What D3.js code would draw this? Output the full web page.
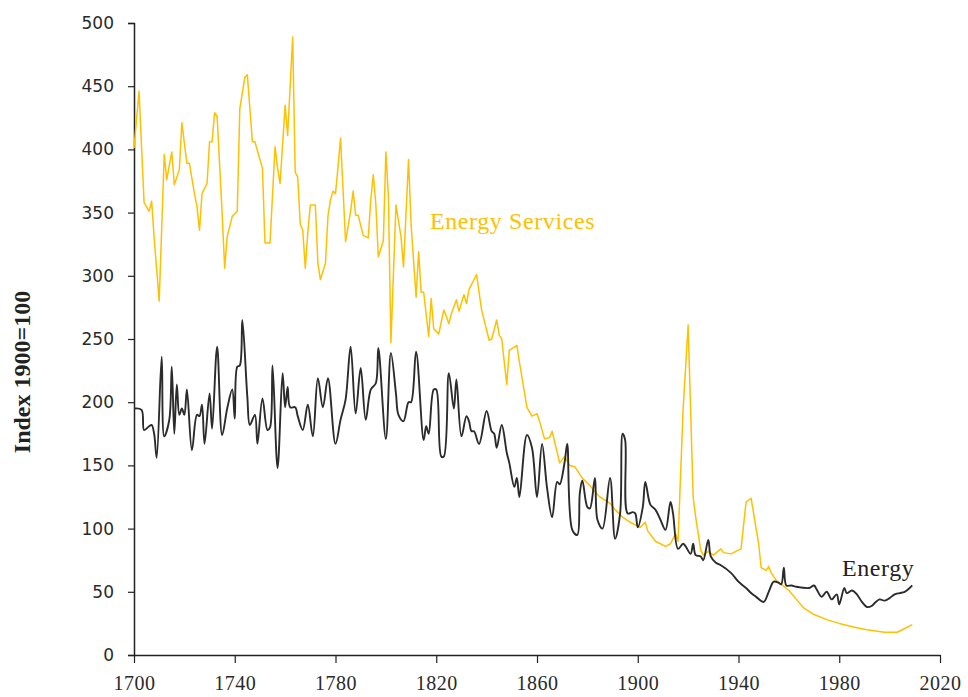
<!DOCTYPE html>
<html>
<head>
<meta charset="utf-8">
<script src="https://cdn.jsdelivr.net/npm/d3@7"></script>
<style>
  body { margin: 0; background: #fff; }
  svg { display: block; }
</style>
</head>
<body>
<div id="chart"></div>
<script>
// year ticks and value ticks
const xTicks = [1700, 1740, 1780, 1820, 1860, 1900, 1940, 1980, 2020];
const yTicks = [0, 50, 100, 150, 200, 250, 300, 350, 400, 450, 500];

// Energy Services index (1900=100)
const energyServices = [
  [1700,401],[1702,446],[1704,358],[1706,351],[1707,359],[1708,330],[1710,280],[1712,396],
  [1713,376],[1715,398],[1716,372],[1718,384],[1719,421],[1721,389],[1722,389],[1724,365],
  [1725,355],[1726,336],[1727,365],[1729,373],[1730,406],[1731,406],[1732,429],[1733,426],
  [1735,349],[1736,306],[1737,331],[1739,347],[1741,351],[1742,432],[1744,457],[1745,459],
  [1747,406],[1748,406],[1751,385],[1752,326],[1754,326],[1756,402],[1757,385],[1758,373],
  [1760,435],[1761,411],[1763,489],[1764,382],[1765,378],[1766,341],[1767,336],[1768,306],
  [1769,334],[1770,356],[1772,356],[1773,310],[1774,297],[1776,310],[1777,347],[1778,360],
  [1779,367],[1780,365],[1781,386],[1782,409],[1784,327],[1786,351],[1787,367],[1788,348],
  [1789,348],[1791,332],[1793,330],[1794,360],[1795,380],[1796,357],[1797,315],[1799,328],
  [1800,398],[1801,363],[1802,247],[1804,356],[1806,331],[1807,307],[1809,392],[1810,341],
  [1812,283],[1813,319],[1814,287],[1815,287],[1817,252],[1818,282],[1819,258],[1821,254],
  [1823,273],[1824,268],[1825,262],[1826,270],[1828,281],[1829,272],[1831,285],[1832,278],
  [1833,289],[1836,301],[1838,273],[1841,249],[1842,250],[1844,265],[1845,253],[1846,250],
  [1848,214],[1849,241],[1852,245],[1853,232],[1856,196],[1858,189],[1860,191],[1861,185],
  [1863,171],[1865,172],[1866,177],[1869,152],[1871,157],[1873,150],[1875,149],[1878,140],
  [1881,134],[1884,127],[1885,125],[1889,120],[1891,115],[1894,109],[1897,105],[1901,101],
  [1903,105],[1904,98],[1907,90],[1909,88],[1911,86],[1913,88],[1915,96],[1916,90],
  [1918,194],[1920,261],[1922,125],[1923,109],[1925,83],[1926,79],[1928,82],[1930,79],
  [1933,84],[1934,81],[1937,80],[1940,83],[1941,84],[1943,121],[1945,124],[1946,112],
  [1948,88],[1949,69],[1951,67],[1952,70],[1953,65],[1955,59],[1960,51],[1963,44],
  [1966,37],[1970,32],[1975,28],[1980,25],[1986,22],[1991,20],[1998,18],[2003,18],
  [2006,21],[2009,24]
];

// Energy index (1900=100)
const energy = [
  [1700,195],[1703,194],[1704,178],[1706,181],[1707,182],[1708,175],[1709,156],[1711,236],
  [1712,173],[1714,186],[1715,228],[1716,175],[1717,214],[1718,190],[1719,195],[1720,190],
  [1721,210],[1723,162],[1725,190],[1726,189],[1727,198],[1728,167],[1730,207],[1731,179],
  [1733,244],[1735,174],[1737,195],[1739,210],[1740,187],[1741,228],[1742,229],[1743,265],
  [1745,204],[1746,182],[1748,190],[1749,167],[1751,203],[1753,178],[1754,180],[1755,229],
  [1757,148],[1759,223],[1760,196],[1761,212],[1762,196],[1764,196],[1765,189],[1767,178],
  [1769,198],[1771,173],[1773,219],[1775,196],[1777,219],[1780,167],[1782,186],[1784,202],
  [1786,244],[1788,191],[1790,227],[1792,186],[1794,210],[1796,215],[1797,243],[1800,171],
  [1802,239],[1804,207],[1805,190],[1807,185],[1809,200],[1810,200],[1812,240],[1815,170],
  [1816,181],[1817,175],[1819,210],[1820,210],[1822,157],[1823,157],[1825,223],[1827,195],
  [1828,218],[1830,173],[1832,189],[1833,185],[1834,177],[1835,177],[1837,167],[1840,193],
  [1842,177],[1843,175],[1844,164],[1846,182],[1848,160],[1849,152],[1851,133],[1852,140],
  [1853,125],[1856,174],[1858,164],[1860,125],[1862,167],[1864,132],[1866,109],[1868,137],
  [1869,135],[1871,153],[1872,167],[1874,99],[1876,95],[1877,128],[1878,138],[1880,117],
  [1881,116],[1883,140],[1884,107],[1886,100],[1889,140],[1891,92],[1893,112],[1894,175],
  [1895,170],[1896,112],[1898,113],[1899,112],[1900,101],[1902,117],[1903,137],[1905,119],
  [1907,115],[1909,107],[1911,99],[1913,121],[1914,112],[1916,84],[1918,88],[1919,86],
  [1921,80],[1922,88],[1923,79],[1925,78],[1926,75],[1928,91],[1929,78],[1931,73],
  [1933,71],[1937,65],[1940,58],[1943,53],[1945,49],[1947,46],[1950,42],[1952,50],
  [1954,58],[1956,57],[1957,56],[1958,69],[1959,55],[1961,55],[1963,54],[1968,53],
  [1970,55],[1971,52],[1973,46],[1975,50],[1977,44],[1979,48],[1980,40],[1982,53],
  [1983,49],[1985,51],[1987,48],[1989,42],[1991,38],[1993,39],[1994,41],[1996,44],
  [1998,43],[2000,45],[2002,48],[2004,49],[2006,50],[2009,55]
];

const width = 968, height = 697;
const svg = d3.select('#chart').append('svg')
  .attr('width', width)
  .attr('height', height);

const x = d3.scaleLinear().domain([1700, 2020]).range([134, 940]);
const y = d3.scaleLinear().domain([0, 500]).range([655, 23]);

// y axis
const yAxis = svg.append('g')
  .attr('transform', 'translate(134,0)')
  .call(d3.axisLeft(y).tickValues(yTicks).tickSize(6).tickPadding(14).tickFormat(d3.format('d')));
yAxis.select('.domain').attr('stroke', '#222').attr('stroke-width', 1.5);
yAxis.selectAll('.tick line').attr('stroke', '#222').attr('stroke-width', 1.2);
yAxis.selectAll('.tick text')
  .attr('font-family', 'DejaVu Sans, Verdana, sans-serif')
  .attr('font-size', 17)
  .attr('fill', '#2a2a2a');

// x axis
const xAxis = svg.append('g')
  .attr('transform', 'translate(0,655)')
  .call(d3.axisBottom(x).tickValues(xTicks).tickSize(8).tickPadding(13).tickSizeOuter(0).tickFormat(d3.format('d')));
xAxis.select('.domain').attr('stroke', '#222').attr('stroke-width', 1.5);
xAxis.selectAll('.tick line').attr('stroke', '#222').attr('stroke-width', 1.2);
xAxis.selectAll('.tick text')
  .attr('font-family', 'Liberation Serif, Times New Roman, serif')
  .attr('font-size', 20)
  .attr('letter-spacing', 0.5)
  .attr('fill', '#2a2a2a');

// y axis title
svg.append('text')
  .attr('transform', 'translate(30,372) rotate(-90)')
  .attr('text-anchor', 'middle')
  .attr('font-family', 'Liberation Serif, Times New Roman, serif')
  .attr('font-weight', 'bold')
  .attr('font-size', 24)
  .attr('fill', '#222')
  .text('Index 1900=100');

// lines
const servLine = d3.line()
  .x(d => x(d[0]))
  .y(d => y(d[1]));

const energyLine = d3.line()
  .curve(d3.curveCatmullRom.alpha(0.5))
  .x(d => x(d[0]))
  .y(d => y(d[1]));

svg.append('path')
  .datum(energyServices)
  .attr('fill', 'none')
  .attr('stroke', '#FFC000')
  .attr('stroke-width', 1.5)
  .attr('stroke-linejoin', 'round')
  .attr('d', servLine);

svg.append('path')
  .datum(energy)
  .attr('fill', 'none')
  .attr('stroke', '#2b2b2b')
  .attr('stroke-width', 1.9)
  .attr('stroke-linejoin', 'round')
  .attr('d', energyLine);

// series labels
svg.append('text')
  .attr('x', 430)
  .attr('y', 229)
  .attr('font-family', 'Liberation Serif, Times New Roman, serif')
  .attr('font-size', 24)
  .attr('letter-spacing', 0.6)
  .attr('fill', '#FFC000')
  .text('Energy Services');

svg.append('text')
  .attr('x', 842)
  .attr('y', 576)
  .attr('font-family', 'Liberation Serif, Times New Roman, serif')
  .attr('font-size', 24)
  .attr('letter-spacing', 0.6)
  .attr('fill', '#222')
  .text('Energy');
</script>
</body>
</html>
